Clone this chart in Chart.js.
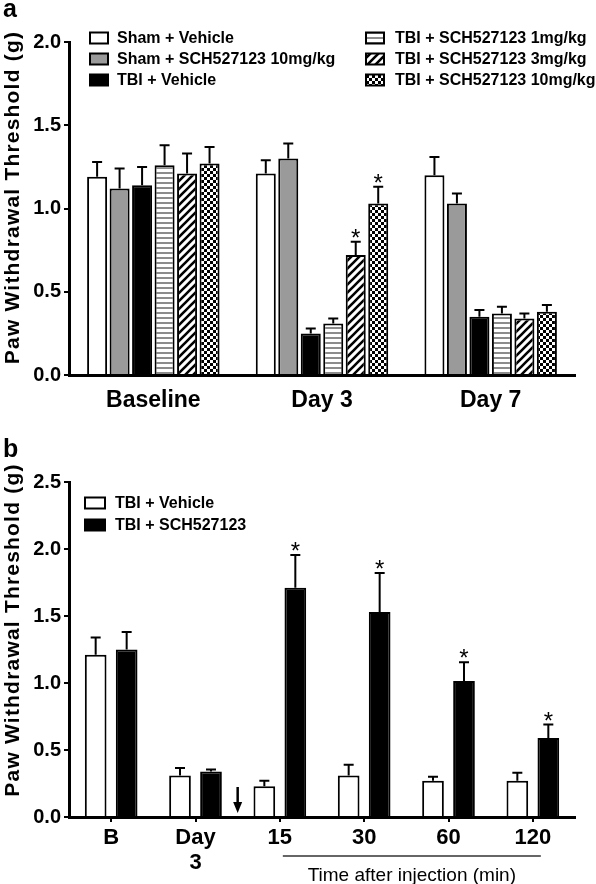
<!DOCTYPE html>
<html>
<head>
<meta charset="utf-8">
<script src="https://cdn.jsdelivr.net/npm/chart.js@4.4.0/dist/chart.umd.min.js"></script>
<style>
body{margin:0;background:#fff;}
#wrap{position:relative;width:596px;height:884px;}
.box{position:absolute;left:0;width:596px;}
</style>
</head>
<body>
<div id="wrap">
<div class="box" style="top:0;height:420px"><canvas id="chartA"></canvas></div>
<div class="box" style="top:420px;height:464px"><canvas id="chartB"></canvas></div>
</div>
<script>
// panel a data
const categoriesA = ["Baseline", "Day 3", "Day 7"];
const shamVehicle = [1.19, 1.21, 1.20];
const shamVehicleSem = [0.09, 0.08, 0.11];
const shamSch10 = [1.12, 1.30, 1.03];
const shamSch10Sem = [0.12, 0.09, 0.06];
const tbiVehicle = [1.14, 0.25, 0.35];
const tbiVehicleSem = [0.11, 0.03, 0.04];
const tbiSch1 = [1.26, 0.31, 0.37];
const tbiSch1Sem = [0.12, 0.03, 0.04];
const tbiSch3 = [1.21, 0.72, 0.34];
const tbiSch3Sem = [0.12, 0.08, 0.03];
const tbiSch10 = [1.27, 1.03, 0.38];
const tbiSch10Sem = [0.10, 0.10, 0.04];
const starsSch3 = [false, true, false];
const starsSch10 = [false, true, false];
const ticksA = [0, 0.5, 1.0, 1.5, 2.0];

// panel b data
const categoriesB = ["B", ["Day", "3"], "15", "30", "60", "120"];
const vehicleB = [1.21, 0.31, 0.23, 0.31, 0.27, 0.27];
const vehicleBSem = [0.13, 0.055, 0.04, 0.08, 0.03, 0.06];
const schB = [1.25, 0.34, 1.71, 1.53, 1.015, 0.59];
const schBSem = [0.13, 0.015, 0.245, 0.29, 0.14, 0.10];
const starsSchB = [false, false, true, true, true, true];
const ticksB = [0, 0.5, 1.0, 1.5, 2.0, 2.5];

const FONT = '"Liberation Sans", Arial, Helvetica, sans-serif';
Chart.defaults.font.family = FONT;
Chart.defaults.color = "#000";
Chart.defaults.animation = false;

function stripes(){
  const c = document.createElement("canvas");
  c.width = 6; c.height = 5;
  const x = c.getContext("2d");
  x.fillStyle = "#fff"; x.fillRect(0,0,6,5);
  x.fillStyle = "#8c8c8c"; x.fillRect(0,2,6,2);
  return x.createPattern(c, "repeat");
}
function hatch(){
  const c = document.createElement("canvas");
  c.width = 8; c.height = 8;
  const x = c.getContext("2d");
  x.fillStyle = "#fff"; x.fillRect(0,0,8,8);
  x.strokeStyle = "#000"; x.lineWidth = 2.6;
  x.beginPath();
  x.moveTo(-2,10); x.lineTo(10,-2);
  x.moveTo(-6,6); x.lineTo(6,-6);
  x.moveTo(2,14); x.lineTo(14,2);
  x.stroke();
  return x.createPattern(c, "repeat");
}
function checks(){
  const c = document.createElement("canvas");
  c.width = 6; c.height = 6;
  const x = c.getContext("2d");
  x.fillStyle = "#000"; x.fillRect(0,0,6,6);
  x.fillStyle = "#fff"; x.fillRect(0,0,3,3); x.fillRect(3,3,3,3);
  return x.createPattern(c, "repeat");
}

function bars(label, data, sem, fill, stars){
  return {
    label: label,
    data: data,
    sem: sem,
    stars: stars || [],
    backgroundColor: fill,
    borderColor: "#000",
    borderWidth: 2
  };
}

// error whiskers (upper only) + asterisks
const errorBars = {
  id: "errorBars",
  afterDatasetsDraw(chart){
    const ctx = chart.ctx, y = chart.scales.y;
    chart.data.datasets.forEach((ds, i)=>{
      chart.getDatasetMeta(i).data.forEach((bar, j)=>{
        const top = y.getPixelForValue(ds.data[j] + ds.sem[j]);
        ctx.save();
        ctx.strokeStyle = "#000";
        ctx.lineWidth = 2;
        ctx.beginPath();
        ctx.moveTo(bar.x, bar.y);
        ctx.lineTo(bar.x, top);
        ctx.moveTo(bar.x - 5, top);
        ctx.lineTo(bar.x + 5, top);
        ctx.stroke();
        if (ds.stars[j]) {
          ctx.fillStyle = "#000";
          ctx.font = "24px " + FONT;
          ctx.textAlign = "center";
          ctx.textBaseline = "alphabetic";
          ctx.fillText("*", bar.x, top + 4);
        }
        ctx.restore();
      });
    });
  }
};

function legendBoxes(items, w, h){
  return {
    id: "legendBoxes",
    afterDraw(chart){
      const ctx = chart.ctx;
      ctx.save();
      ctx.font = "bold 16px " + FONT;
      ctx.textBaseline = "middle";
      ctx.textAlign = "left";
      items.forEach(it=>{
        const ds = chart.data.datasets[it.i];
        ctx.fillStyle = ds.backgroundColor;
        ctx.fillRect(it.x, it.y, w, h);
        ctx.strokeStyle = "#000";
        ctx.lineWidth = 2;
        ctx.strokeRect(it.x, it.y, w, h);
        ctx.fillStyle = "#000";
        ctx.fillText(ds.label, it.tx, it.y + h / 2 + 1);
      });
      ctx.restore();
    }
  };
}

function sideText(letter, letterY, shift){
  return {
    id: "sideText",
    afterDraw(chart){
      const ctx = chart.ctx, a = chart.chartArea;
      ctx.save();
      ctx.fillStyle = "#000";
      ctx.font = "bold 25px " + FONT;
      ctx.textAlign = "left";
      ctx.textBaseline = "alphabetic";
      ctx.fillText(letter, 3, letterY);
      ctx.translate(13, (a.top + a.bottom) / 2 - shift);
      ctx.rotate(-Math.PI / 2);
      ctx.font = "bold 21px " + FONT;
      ctx.letterSpacing = "1.2px";
      ctx.textAlign = "center";
      ctx.textBaseline = "middle";
      ctx.fillText("Paw Withdrawal Threshold (g)", 0, 0);
      ctx.restore();
    }
  };
}

function yScale(max, ticks){
  return {
    min: 0, max: max,
    afterBuildTicks: s => { s.ticks = ticks.map(v => ({value: v})); },
    ticks: { callback: v => Number(v).toFixed(1), font: {size: 20, weight: "bold"}, padding: 3, color: "#000" },
    grid: { drawOnChartArea: false, drawTicks: true, tickLength: 5, color: "#000", lineWidth: 2 },
    border: { color: "#000", width: 3 },
    afterFit: s => { s.width = 69; }
  };
}

new Chart(document.getElementById("chartA"), {
  type: "bar",
  data: {
    labels: categoriesA,
    datasets: [
      bars("Sham + Vehicle", shamVehicle, shamVehicleSem, "#fff"),
      bars("Sham + SCH527123 10mg/kg", shamSch10, shamSch10Sem, "#9a9a9a"),
      bars("TBI + Vehicle", tbiVehicle, tbiVehicleSem, "#000"),
      bars("TBI + SCH527123 1mg/kg", tbiSch1, tbiSch1Sem, stripes()),
      bars("TBI + SCH527123 3mg/kg", tbiSch3, tbiSch3Sem, hatch(), starsSch3),
      bars("TBI + SCH527123 10mg/kg", tbiSch10, tbiSch10Sem, checks(), starsSch10)
    ]
  },
  options: {
    responsive: true,
    maintainAspectRatio: false,
    layout: { padding: { top: 42, right: 21, left: 0, bottom: 0 } },
    datasets: { bar: { categoryPercentage: 0.8, barPercentage: 0.89 } },
    plugins: { legend: { display: false }, tooltip: { enabled: false } },
    scales: {
      x: {
        grid: { drawOnChartArea: false, drawTicks: false },
        border: { color: "#000", width: 3 },
        ticks: { font: { size: 23, weight: "bold" }, padding: 12, color: "#000" },
        afterFit: s => { s.height = 45; }
      },
      y: yScale(2.0, ticksA)
    }
  },
  plugins: [errorBars, sideText("a", 17, 11), legendBoxes([
    {i: 0, x: 90, y: 32.5, tx: 117},
    {i: 1, x: 90, y: 53.5, tx: 117},
    {i: 2, x: 90, y: 74.5, tx: 117},
    {i: 3, x: 366, y: 32.5, tx: 395},
    {i: 4, x: 366, y: 53.5, tx: 395},
    {i: 5, x: 366, y: 74.5, tx: 395}
  ], 18, 11)]
});

// arrow, bracket line and "Time after injection" caption under panel b
const timeNote = {
  id: "timeNote",
  afterDraw(chart){
    const ctx = chart.ctx, x = chart.scales.x, a = chart.chartArea;
    const ax = (x.getPixelForValue(1) + x.getPixelForValue(2)) / 2;
    ctx.save();
    ctx.strokeStyle = "#000";
    ctx.fillStyle = "#000";
    ctx.lineWidth = 2.5;
    ctx.beginPath();
    ctx.moveTo(ax, a.bottom - 30);
    ctx.lineTo(ax, a.bottom - 14);
    ctx.stroke();
    ctx.beginPath();
    ctx.moveTo(ax - 4.5, a.bottom - 15);
    ctx.lineTo(ax + 4.5, a.bottom - 15);
    ctx.lineTo(ax, a.bottom - 4);
    ctx.closePath();
    ctx.fill();
    const x0 = x.getPixelForValue(2) + 3, x1 = x.getPixelForValue(5) + 8;
    ctx.lineWidth = 1.5;
    ctx.strokeStyle = "#333";
    ctx.beginPath();
    ctx.moveTo(x0, a.bottom + 39);
    ctx.lineTo(x1, a.bottom + 39);
    ctx.stroke();
    ctx.font = "19px " + FONT;
    ctx.textAlign = "center";
    ctx.textBaseline = "middle";
    ctx.fillText("Time after injection (min)", (x0 + x1) / 2, a.bottom + 59);
    ctx.restore();
  }
};

new Chart(document.getElementById("chartB"), {
  type: "bar",
  data: {
    labels: categoriesB,
    datasets: [
      bars("TBI + Vehicle", vehicleB, vehicleBSem, "#fff"),
      bars("TBI + SCH527123", schB, schBSem, "#000", starsSchB)
    ]
  },
  options: {
    responsive: true,
    maintainAspectRatio: false,
    layout: { padding: { top: 62, right: 21, left: 0, bottom: 0 } },
    datasets: { bar: { categoryPercentage: 0.735, barPercentage: 0.7 } },
    plugins: { legend: { display: false }, tooltip: { enabled: false } },
    scales: {
      x: {
        grid: { drawOnChartArea: false, drawTicks: true, tickLength: 5, color: "#000", lineWidth: 2, offset: false },
        border: { color: "#000", width: 3 },
        ticks: { font: { size: 22, weight: "bold", lineHeight: 1.15 }, padding: 3, color: "#000" },
        afterFit: s => { s.height = 67; }
      },
      y: yScale(2.5, ticksB)
    }
  },
  plugins: [errorBars, timeNote, sideText("b", 37, 19.5), legendBoxes([
    {i: 0, x: 85, y: 77.5, tx: 115},
    {i: 1, x: 85, y: 99.5, tx: 115}
  ], 20, 11)]
});
</script>
</body>
</html>
